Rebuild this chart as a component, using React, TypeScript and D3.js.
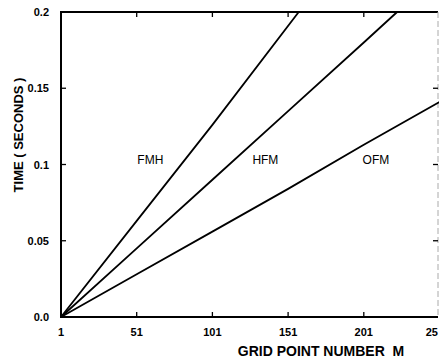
import React, { useEffect, useRef } from 'react';
import * as d3 from 'd3';

// grid point numbers where values were read
const fmhM = [1, 51, 101, 158];
const fmhT = [0, 0.063, 0.126, 0.2];
const hfmM = [1, 51, 101, 151, 201, 223];
const hfmT = [0, 0.045, 0.09, 0.135, 0.18, 0.2];
const ofmM = [1, 51, 101, 151, 201, 251];
const ofmT = [0, 0.028, 0.056, 0.084, 0.113, 0.141];

const seriesNames = ['FMH', 'HFM', 'OFM'];
const labelAt = [
  { m: 60, t: 0.103 },
  { m: 136, t: 0.103 },
  { m: 209, t: 0.103 },
];

const xTicks = [1, 51, 101, 151, 201, 251];
const xTickLabels = ['1', '51', '101', '151', '201', '25'];
const yTicks = [0, 0.05, 0.1, 0.15, 0.2];
const yTickLabels = ['0.0', '0.05', '0.1', '0.15', '0.2'];

const App = () => {
  const svgRef = useRef<SVGSVGElement>(null);

  useEffect(() => {
    const W = 439;
    const H = 358;
    const svg = d3.select(svgRef.current).attr('width', W).attr('height', H);
    svg.selectAll('*').remove();

    const x = d3.scaleLinear().domain([1, 251]).range([61, 439.5]);
    const y = d3.scaleLinear().domain([0, 0.2]).range([317, 12]);

    const font = '"Liberation Sans", Arial, sans-serif';

    // frame
    svg.append('line')
      .attr('x1', x(1)).attr('x2', x(1)).attr('y1', y(0) + 1).attr('y2', y(0.2) - 1)
      .attr('stroke', '#000').attr('stroke-width', 2);
    svg.append('line')
      .attr('x1', x(1)).attr('x2', 438).attr('y1', y(0)).attr('y2', y(0))
      .attr('stroke', '#000').attr('stroke-width', 2);
    svg.append('line')
      .attr('x1', x(1)).attr('x2', 438).attr('y1', y(0.2)).attr('y2', y(0.2))
      .attr('stroke', '#000').attr('stroke-width', 2);
    svg.append('line')
      .attr('x1', 438).attr('x2', 438).attr('y1', y(0.2)).attr('y2', y(0))
      .attr('stroke', '#aaa').attr('stroke-width', 1)
      .attr('stroke-dasharray', '6,3');

    // ticks
    const tickG = svg.append('g').attr('stroke', '#000').attr('stroke-width', 1.3);
    xTicks.slice(1, -1).forEach(m => {
      tickG.append('line')
        .attr('x1', x(m)).attr('x2', x(m)).attr('y1', y(0)).attr('y2', y(0) - 5);
      tickG.append('line')
        .attr('x1', x(m)).attr('x2', x(m)).attr('y1', y(0.2)).attr('y2', y(0.2) + 5);
    });
    yTicks.slice(1, -1).forEach(t => {
      tickG.append('line')
        .attr('x1', x(1)).attr('x2', x(1) + 5).attr('y1', y(t)).attr('y2', y(t));
      tickG.append('line')
        .attr('x1', 438).attr('x2', 433).attr('y1', y(t)).attr('y2', y(t));
    });

    // tick labels
    svg.append('g')
      .selectAll('text')
      .data(xTicks)
      .enter().append('text')
      .attr('x', (d, i) => (i === xTicks.length - 1 ? 438 : x(d)))
      .attr('y', 336)
      .attr('text-anchor', (d, i) => (i === xTicks.length - 1 ? 'end' : 'middle'))
      .attr('font-family', font)
      .attr('font-size', 11)
      .attr('font-weight', 600)
      .text((d, i) => xTickLabels[i]);

    svg.append('g')
      .selectAll('text')
      .data(yTicks)
      .enter().append('text')
      .attr('x', 49)
      .attr('y', d => y(d) + 4)
      .attr('text-anchor', 'end')
      .attr('font-family', font)
      .attr('font-size', 11)
      .attr('font-weight', 600)
      .text((d, i) => yTickLabels[i]);

    // axis titles
    svg.append('text')
      .attr('x', 321)
      .attr('y', 356)
      .attr('text-anchor', 'middle')
      .attr('font-family', font)
      .attr('font-size', 14)
      .attr('font-weight', 'bold')
      .attr('xml:space', 'preserve')
      .text('GRID POINT NUMBER  M');

    svg.append('text')
      .attr('transform', 'translate(23,135) rotate(-90)')
      .attr('text-anchor', 'middle')
      .attr('font-family', font)
      .attr('font-size', 13)
      .attr('font-weight', 'bold')
      .attr('xml:space', 'preserve')
      .text('TIME ( SECONDS )');

    // curves
    const series = [
      fmhM.map((m, i) => [m, fmhT[i]]),
      hfmM.map((m, i) => [m, hfmT[i]]),
      ofmM.map((m, i) => [m, ofmT[i]]),
    ];
    const line = d3.line<number[]>().x(d => x(d[0])).y(d => y(d[1]));
    svg.append('g')
      .selectAll('path')
      .data(series)
      .enter().append('path')
      .attr('d', d => line(d))
      .attr('fill', 'none')
      .attr('stroke', '#000')
      .attr('stroke-width', 1.8);

    // series labels
    svg.append('g')
      .selectAll('text')
      .data(labelAt)
      .enter().append('text')
      .attr('x', d => x(d.m))
      .attr('y', d => y(d.t) + 4)
      .attr('text-anchor', 'middle')
      .attr('font-family', font)
      .attr('font-size', 12)
      .text((d, i) => seriesNames[i]);
  }, []);

  return (
    <svg ref={svgRef} style={{ position: 'absolute', left: 0, top: 0, background: '#fff' }}></svg>
  );
};

export default App;
